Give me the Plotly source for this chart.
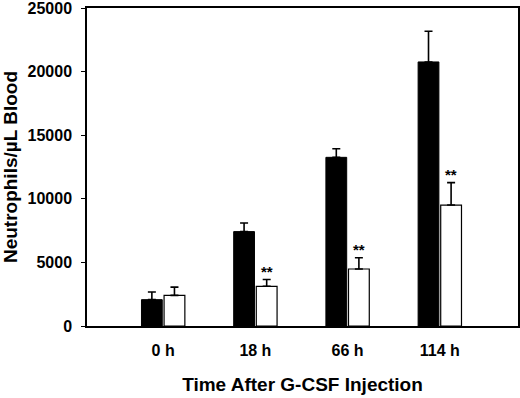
import plotly.graph_objects as go

categories = ["0 h", "18 h", "66 h", "114 h"]
control_vals = [2070, 7420, 13260, 20760]
control_err = [600, 680, 680, 2410]
treated_vals = [2410, 3120, 4480, 9510]
treated_err = [650, 530, 890, 1760]
sig_labels = ["", "**", "**", "**"]
y_ticks = [0, 5000, 10000, 15000, 20000, 25000]

font_family = "Liberation Sans, Arial, sans-serif"

fig = go.Figure()
fig.add_trace(go.Bar(
    x=categories, y=control_vals, name="Control",
    marker=dict(color="black", line=dict(color="black", width=1)),
    error_y=dict(type="data", array=control_err, arrayminus=[0]*4, symmetric=False,
                 color="black", thickness=1.6, width=4),
))
fig.add_trace(go.Bar(
    x=categories, y=treated_vals, name="Treated",
    marker=dict(color="white", line=dict(color="black", width=1.2)),
    error_y=dict(type="data", array=treated_err, arrayminus=[0]*4, symmetric=False,
                 color="black", thickness=1.6, width=4),
))

for i, (c, lab) in enumerate(zip(categories, sig_labels)):
    if lab:
        fig.add_annotation(x=c, y=treated_vals[i] + treated_err[i], text="<b>" + lab + "</b>",
                           showarrow=False, xshift=11.5, yanchor="bottom", yshift=-2,
                           font=dict(family=font_family, size=15, color="black"))

fig.update_layout(
    width=520, height=398,
    margin=dict(l=87, r=2, t=8, b=72, autoexpand=False),
    paper_bgcolor="white", plot_bgcolor="white",
    barmode="group", bargap=0.51, bargroupgap=0.08,
    showlegend=False,
    font=dict(family=font_family, size=16, color="black"),
)
fig.update_xaxes(
    type="category", range=[-0.826, 3.848], automargin=False,
    showline=True, linecolor="black", linewidth=1.5, mirror=True,
    ticks="", tickfont=dict(family=font_family, size=16, color="black"),
    ticklabelstandoff=9,
    tickvals=categories, ticktext=["<b>%s</b>" % c for c in categories],
    title=dict(text="<b>Time After G-CSF Injection</b>", font=dict(family=font_family, size=19), standoff=20),
    showgrid=False,
)
fig.update_yaxes(
    range=[0, 25001], automargin=False,
    tickvals=y_ticks, ticktext=["<b>%d</b>" % v for v in y_ticks],
    showline=True, linecolor="black", linewidth=1.5, mirror=True,
    ticks="outside", ticklen=4, tickwidth=1.2, tickcolor="black",
    tickfont=dict(family=font_family, size=16, color="black"),
    ticklabelstandoff=6, ticklabeloverflow="allow",
    title=dict(text="<b>Neutrophils/µL Blood</b>", font=dict(family=font_family, size=19), standoff=8),
    showgrid=False, zeroline=False,
)

fig.write_html(
    "out.html",
    default_width="520px", default_height="398px",
    config={"responsive": False, "displayModeBar": False},
    post_script="document.body.style.margin='0';document.body.style.overflow='hidden';",
)
